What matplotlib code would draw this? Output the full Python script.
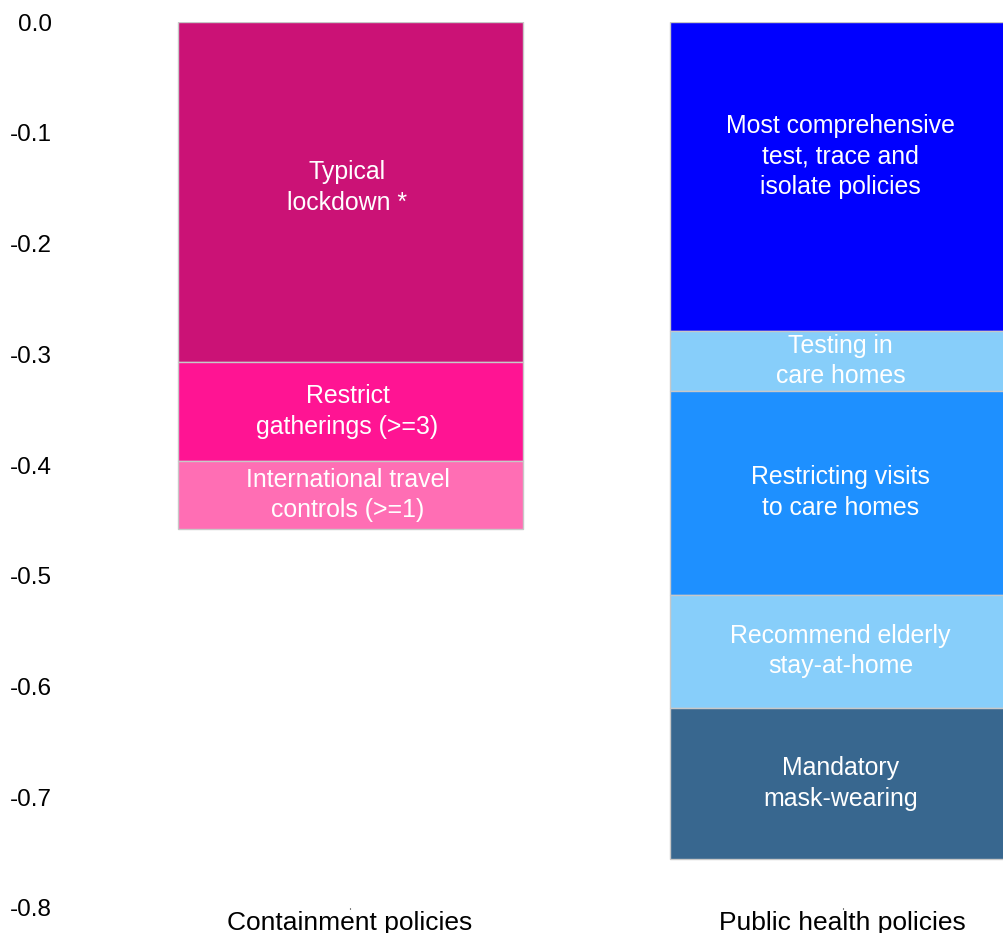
import numpy as np
import matplotlib.pyplot as plt

plt.rcParams['font.family'] = ['Liberation Sans', 'DejaVu Sans']

categories = ['Containment policies', 'Public health policies']

# segments of each stacked bar (top to bottom), values are effect sizes
containment_labels = ['Typical\nlockdown *', 'Restrict\ngatherings (>=3)',
                      'International travel\ncontrols (>=1)']
containment_values = [-0.307, -0.089, -0.062]
containment_colors = ['#CB1276', '#FF1493', '#FF6EB4']

health_labels = ['Most comprehensive\ntest, trace and\nisolate policies',
                 'Testing in\ncare homes', 'Restricting visits\nto care homes',
                 'Recommend elderly\nstay-at-home', 'Mandatory\nmask-wearing']
health_values = [-0.279, -0.054, -0.184, -0.102, -0.137]
health_colors = ['#0000FF', '#87CEFA', '#1E90FF', '#87CEFA', '#38678F']

yticks = [0.0, -0.1, -0.2, -0.3, -0.4, -0.5, -0.6, -0.7, -0.8]

fig = plt.figure(figsize=(10.04, 9.33), dpi=100)
ax = fig.add_axes([0.06, 0.0268, 0.94, 0.9496])

width = 0.7
fs = 17.9
groups = [(containment_labels, containment_values, containment_colors),
          (health_labels, health_values, health_colors)]
for i, (labels, vals, cols) in enumerate(groups):
    bottom = 0.0
    for lab, v, c in zip(labels, vals, cols):
        ax.bar(i, v, width=width, bottom=bottom, color=c,
               edgecolor='#C8C8C8', linewidth=1)
        ymid = bottom + v / 2
        if lab.startswith('Most'):
            ymid += 0.018
        elif lab.startswith('Typical'):
            ymid += 0.004
        ax.text(i - 0.005, ymid, lab, ha='center', va='center', color='white',
                fontsize=fs, linespacing=1.34)
        bottom += v

ax.set_xlim(-0.588, 1.327)
ax.set_ylim(-0.8, 0.0)
ax.set_xticks(range(len(categories)))
ax.set_xticklabels(categories, fontsize=19)
ax.set_yticks(yticks)
ax.set_yticklabels([f'{t:.1f}' for t in yticks], fontsize=17.5)
ax.tick_params(axis='y', length=0, pad=6)
ax.tick_params(axis='x', length=1, width=0.8, pad=1)
for s in ax.spines.values():
    s.set_visible(False)

fig.savefig('out.png', dpi=100)
